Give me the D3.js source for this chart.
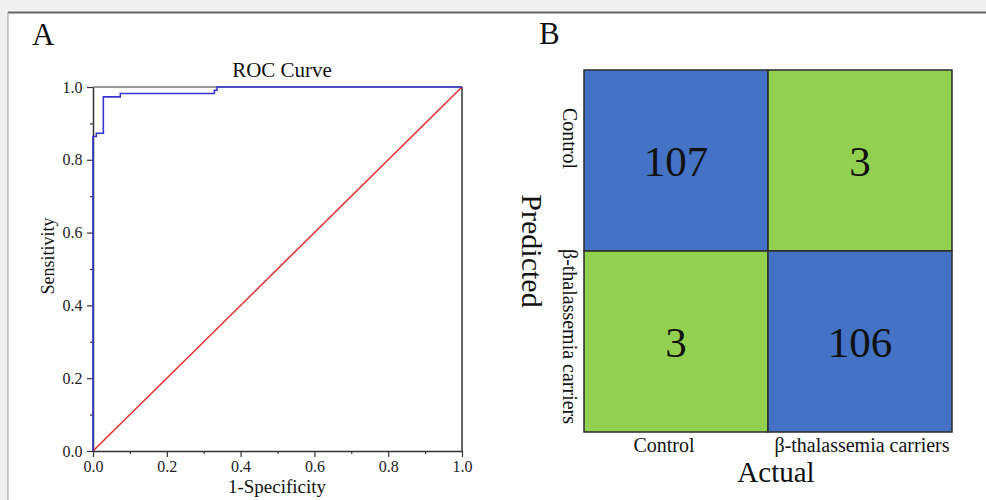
<!DOCTYPE html>
<html>
<head>
<meta charset="utf-8">
<script src="https://cdn.jsdelivr.net/npm/d3@7"></script>
<style>
  html, body { margin: 0; padding: 0; background: #f0f0f0; }
  svg { display: block; font-family: "Liberation Serif", "Times New Roman", serif; }
</style>
</head>
<body>
<svg id="chart" width="986" height="500"></svg>
<script>
// ---------- DATA ----------
// ROC curve points (1-Specificity, Sensitivity), step shaped
const rocFPR = [0, 0, 0.009, 0.009, 0.028, 0.028, 0.074, 0.074, 0.329, 0.329, 0.336, 0.336, 1.0];
const rocTPR = [0, 0.864, 0.864, 0.873, 0.873, 0.973, 0.973, 0.982, 0.982, 0.991, 0.991, 1.0, 1.0];
const refLine = [[0, 0], [1, 1]];
const rocTicks = [0, 0.2, 0.4, 0.6, 0.8, 1.0];
const rocMinorTicks = [0.1, 0.3, 0.5, 0.7, 0.9];

// Confusion matrix
const classes = ["Control", "β-thalassemia carriers"];
const matrixValues = [[107, 3], [3, 106]]; // rows: predicted, cols: actual

// ---------- SETUP ----------
const svg = d3.select("#chart");
const serif = '"Liberation Serif", "Times New Roman", serif';

// page frame: gray strip top + left, white panel
svg.append("rect").attr("x", 0).attr("y", 0).attr("width", 986).attr("height", 500).attr("fill", "#f0f0f0");
svg.append("rect").attr("x", 8).attr("y", 13).attr("width", 978).attr("height", 487).attr("fill", "#ffffff");
svg.append("line").attr("x1", 8).attr("x2", 986).attr("y1", 12.5).attr("y2", 12.5).attr("stroke", "#666").attr("stroke-width", 2);
svg.append("line").attr("x1", 8).attr("x2", 8).attr("y1", 12).attr("y2", 500).attr("stroke", "#999").attr("stroke-width", 1);

// panel letters
svg.append("text").attr("x", 32).attr("y", 45).attr("font-size", 31).attr("fill", "#111").text("A");
svg.append("text").attr("x", 539).attr("y", 44).attr("font-size", 31).attr("fill", "#111").text("B");

// ---------- ROC PANEL ----------
const x = d3.scaleLinear().domain([0, 1]).range([93, 462]);
const y = d3.scaleLinear().domain([0, 1]).range([451, 87]);

// title
svg.append("text").attr("x", 282).attr("y", 77).attr("text-anchor", "middle")
  .attr("font-size", 21).attr("fill", "#111").text("ROC Curve");

// top + right frame
svg.append("line").attr("x1", x(0)).attr("x2", x(1)).attr("y1", y(1)).attr("y2", y(1))
  .attr("stroke", "#777").attr("stroke-width", 1.5);
svg.append("line").attr("x1", x(1)).attr("x2", x(1)).attr("y1", y(1)).attr("y2", y(0))
  .attr("stroke", "#333").attr("stroke-width", 1.5);

// axes (major)
const xAxis = d3.axisBottom(x).tickValues(rocTicks).tickFormat(d3.format(".1f")).tickSize(6).tickSizeOuter(0);
const yAxis = d3.axisLeft(y).tickValues(rocTicks).tickFormat(d3.format(".1f")).tickSize(6).tickSizeOuter(0);
const gx = svg.append("g").attr("transform", `translate(0,${y(0)})`).call(xAxis);
const gy = svg.append("g").attr("transform", `translate(${x(0)},0)`).call(yAxis);
// minor ticks
svg.append("g").attr("transform", `translate(0,${y(0)})`)
  .call(d3.axisBottom(x).tickValues(rocMinorTicks).tickFormat("").tickSize(3).tickSizeOuter(0))
  .select(".domain").remove();
svg.append("g").attr("transform", `translate(${x(0)},0)`)
  .call(d3.axisLeft(y).tickValues(rocMinorTicks).tickFormat("").tickSize(3).tickSizeOuter(0))
  .select(".domain").remove();

svg.selectAll(".domain").attr("stroke", "#333").attr("stroke-width", 1.5);
svg.selectAll(".tick line").attr("stroke", "#333").attr("stroke-width", 1.2);
gx.selectAll(".tick text").attr("font-family", serif).attr("font-size", 16).attr("fill", "#222").attr("dy", "0.78em");
gy.selectAll(".tick text").attr("font-family", serif).attr("font-size", 16).attr("fill", "#222").attr("dx", "-0.1em");

// axis labels
svg.append("text").attr("x", 277).attr("y", 493).attr("text-anchor", "middle")
  .attr("font-size", 19).attr("fill", "#111").text("1-Specificity");
svg.append("text").attr("transform", `translate(54,256) rotate(-90)`).attr("text-anchor", "middle")
  .attr("font-size", 18).attr("fill", "#111").text("Sensitivity");

// reference diagonal
svg.append("path").datum(refLine)
  .attr("d", d3.line().x(d => x(d[0])).y(d => y(d[1])))
  .attr("fill", "none").attr("stroke", "#e52b2b").attr("stroke-width", 1.5);

// ROC curve
const rocPts = rocFPR.map((f, i) => [f, rocTPR[i]]);
svg.append("path").datum(rocPts)
  .attr("d", d3.line().x(d => x(d[0])).y(d => y(d[1])))
  .attr("fill", "none").attr("stroke", "#3434d0").attr("stroke-width", 1.6);

// ---------- CONFUSION MATRIX PANEL ----------
const cx = d3.scaleBand().domain(classes).range([584, 952]);
const cy = d3.scaleBand().domain(classes).range([70, 432]);
const blue = "#4472c4", green = "#92d050";

const cells = [];
matrixValues.forEach((row, r) => row.forEach((v, c) => cells.push({ r, c, v })));

svg.append("g").selectAll("rect").data(cells).join("rect")
  .attr("x", d => cx(classes[d.c]))
  .attr("y", d => cy(classes[d.r]))
  .attr("width", cx.bandwidth())
  .attr("height", cy.bandwidth())
  .attr("fill", d => d.r === d.c ? blue : green)
  .attr("stroke", "#2b2b2b").attr("stroke-width", 1.5);

svg.append("g").selectAll("text").data(cells).join("text")
  .attr("x", d => cx(classes[d.c]) + cx.bandwidth() / 2)
  .attr("y", d => cy(classes[d.r]) + cy.bandwidth() / 2 + 15)
  .attr("text-anchor", "middle")
  .attr("font-size", 43).attr("fill", "#111")
  .text(d => d.v);

// column (actual) labels
const colShift = [-12, 2];
svg.append("g").selectAll("text").data(classes).join("text")
  .attr("x", (d, i) => cx(d) + cx.bandwidth() / 2 + colShift[i])
  .attr("y", 452)
  .attr("text-anchor", "middle")
  .attr("font-size", 20).attr("fill", "#111")
  .text(d => d);

// row (predicted) labels, rotated clockwise
const rowShift = [-22, -5];
svg.append("g").selectAll("text").data(classes).join("text")
  .attr("transform", (d, i) => `translate(563,${cy(d) + cy.bandwidth() / 2 + rowShift[i]}) rotate(90)`)
  .attr("text-anchor", "middle")
  .attr("font-size", 20).attr("fill", "#111")
  .text(d => d);

// axis titles
svg.append("text").attr("x", 776).attr("y", 482).attr("text-anchor", "middle")
  .attr("font-size", 29).attr("fill", "#111").text("Actual");
svg.append("text").attr("transform", `translate(522,251) rotate(90)`).attr("text-anchor", "middle")
  .attr("font-size", 30).attr("fill", "#111").text("Predicted");
</script>
</body>
</html>
